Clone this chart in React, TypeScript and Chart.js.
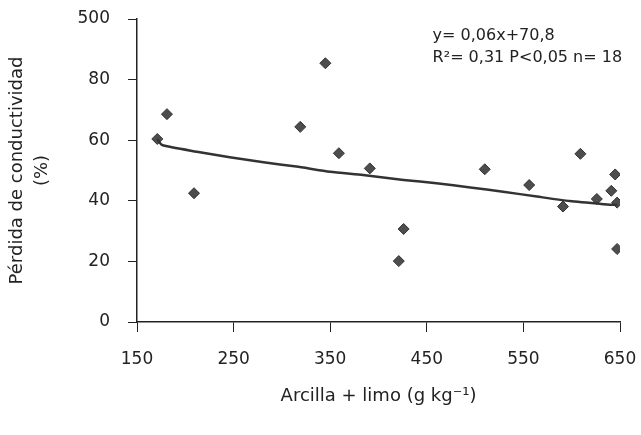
import React, { useEffect, useRef } from "react";
import { Chart, registerables } from "chart.js";

Chart.register(...registerables);

// Data
const clayLimo = [171, 181, 209, 319, 345, 359, 391, 421, 426, 510, 556, 591, 609, 626, 641, 645, 647, 647];
const conductLoss = [60.4, 68.6, 42.5, 64.4, 85.4, 55.7, 50.7, 20.1, 30.7, 50.4, 45.2, 38.1, 55.5, 40.6, 43.3, 48.7, 39.4, 24.1];

const trendX = [171, 176, 212, 246, 281, 315, 350, 384, 426, 460, 495, 529, 564, 598, 633, 647];
const trendY = [60.4, 58.4, 56.2, 54.4, 52.7, 51.3, 49.6, 48.5, 46.9, 45.8, 44.4, 43.0, 41.4, 39.9, 38.9, 38.6];

const xTickValues = [150, 250, 350, 450, 550, 650];
const yTickValues = [0, 20, 40, 60, 80, 100];
const yTickLabels = ["0", "20", "40", "60", "80", "500"];

const equationLines = ["y= 0,06x+70,8", "R\u00B2= 0,31 P<0,05 n= 18"];
const equationAnchor = { x: 456, y: 93 };

const xTitle = "Arcilla + limo (g kg\u207B\u00B9)";
const yTitle = ["Pérdida de conductividad", "(%)"];

const FONT = '"DejaVu Sans", "Liberation Sans", Arial, sans-serif';
const INK = "#222";

const equationPlugin = {
  id: "equationText",
  afterDatasetsDraw(chart: any) {
    const { ctx, scales } = chart;
    const px = scales.x.getPixelForValue(equationAnchor.x);
    const py = scales.y.getPixelForValue(equationAnchor.y);
    ctx.save();
    ctx.fillStyle = INK;
    ctx.font = `16px ${FONT}`;
    ctx.textAlign = "left";
    ctx.textBaseline = "alphabetic";
    equationLines.forEach((line, i) => {
      ctx.fillText(line, px, py + i * 22);
    });
    ctx.restore();
  },
};

const zeroPad = (scale: any) => {
  scale.paddingTop = 0;
  scale.paddingBottom = 0;
  scale.paddingLeft = 0;
  scale.paddingRight = 0;
};

export default function App() {
  const canvasRef = useRef<HTMLCanvasElement | null>(null);

  useEffect(() => {
    if (!canvasRef.current) return;
    const points = clayLimo.map((x, i) => ({ x, y: conductLoss[i] }));
    const trend = trendX.map((x, i) => ({ x, y: trendY[i] }));

    const chart = new Chart(canvasRef.current, {
      type: "scatter",
      data: {
        datasets: [
          {
            type: "line",
            data: trend,
            borderColor: "#333",
            borderWidth: 2.5,
            pointRadius: 0,
            fill: false,
            tension: 0.2,
          } as any,
          {
            type: "scatter",
            data: points,
            pointStyle: "rectRot",
            pointRadius: 5.5,
            backgroundColor: "#4d4d4d",
            borderColor: "#333",
            borderWidth: 1,
          } as any,
        ],
      },
      options: {
        animation: false,
        responsive: false,
        layout: { padding: { top: 19, right: 21, bottom: 0, left: 0 } },
        plugins: {
          legend: { display: false },
          tooltip: { enabled: false },
        },
        scales: {
          x: {
            type: "linear",
            position: "bottom",
            min: 150,
            max: 650,
            afterBuildTicks: (scale: any) => {
              scale.ticks = xTickValues.map((v) => ({ value: v }));
            },
            afterFit: (scale: any) => {
              scale.height = 113;
              zeroPad(scale);
            },
            ticks: {
              color: INK,
              font: { family: FONT, size: 17 },
              padding: 17,
              maxRotation: 0,
              autoSkip: false,
            },
            grid: {
              drawOnChartArea: false,
              drawTicks: true,
              tickLength: 10,
              color: INK,
              lineWidth: 1,
            },
            border: { display: true, color: INK, width: 1.5 },
            title: {
              display: true,
              text: xTitle,
              color: INK,
              font: { family: FONT, size: 18 },
              padding: { top: 0, bottom: 28 },
            },
          },
          y: {
            type: "linear",
            min: 0,
            max: 100,
            afterBuildTicks: (scale: any) => {
              scale.ticks = yTickValues.map((v) => ({ value: v }));
            },
            afterFit: (scale: any) => {
              scale.width = 137;
              zeroPad(scale);
            },
            ticks: {
              color: INK,
              font: { family: FONT, size: 17 },
              padding: 18,
              callback: (value: any) => {
                const idx = yTickValues.indexOf(Number(value));
                return idx >= 0 ? yTickLabels[idx] : "";
              },
            },
            grid: {
              drawOnChartArea: false,
              drawTicks: true,
              tickLength: 9,
              color: INK,
              lineWidth: 1,
            },
            border: { display: true, color: INK, width: 1.5 },
            title: {
              display: true,
              text: yTitle,
              color: INK,
              font: { family: FONT, size: 18, lineHeight: 1.4 },
              padding: { top: 5, bottom: 0 },
            },
          },
        },
      } as any,
      plugins: [equationPlugin],
    });

    return () => chart.destroy();
  }, []);

  return (
    <div style={{ position: "fixed", left: 0, top: 0, width: 641, height: 435, background: "#fff" }}>
      <canvas ref={canvasRef} width={641} height={435} style={{ display: "block" }} />
    </div>
  );
}
